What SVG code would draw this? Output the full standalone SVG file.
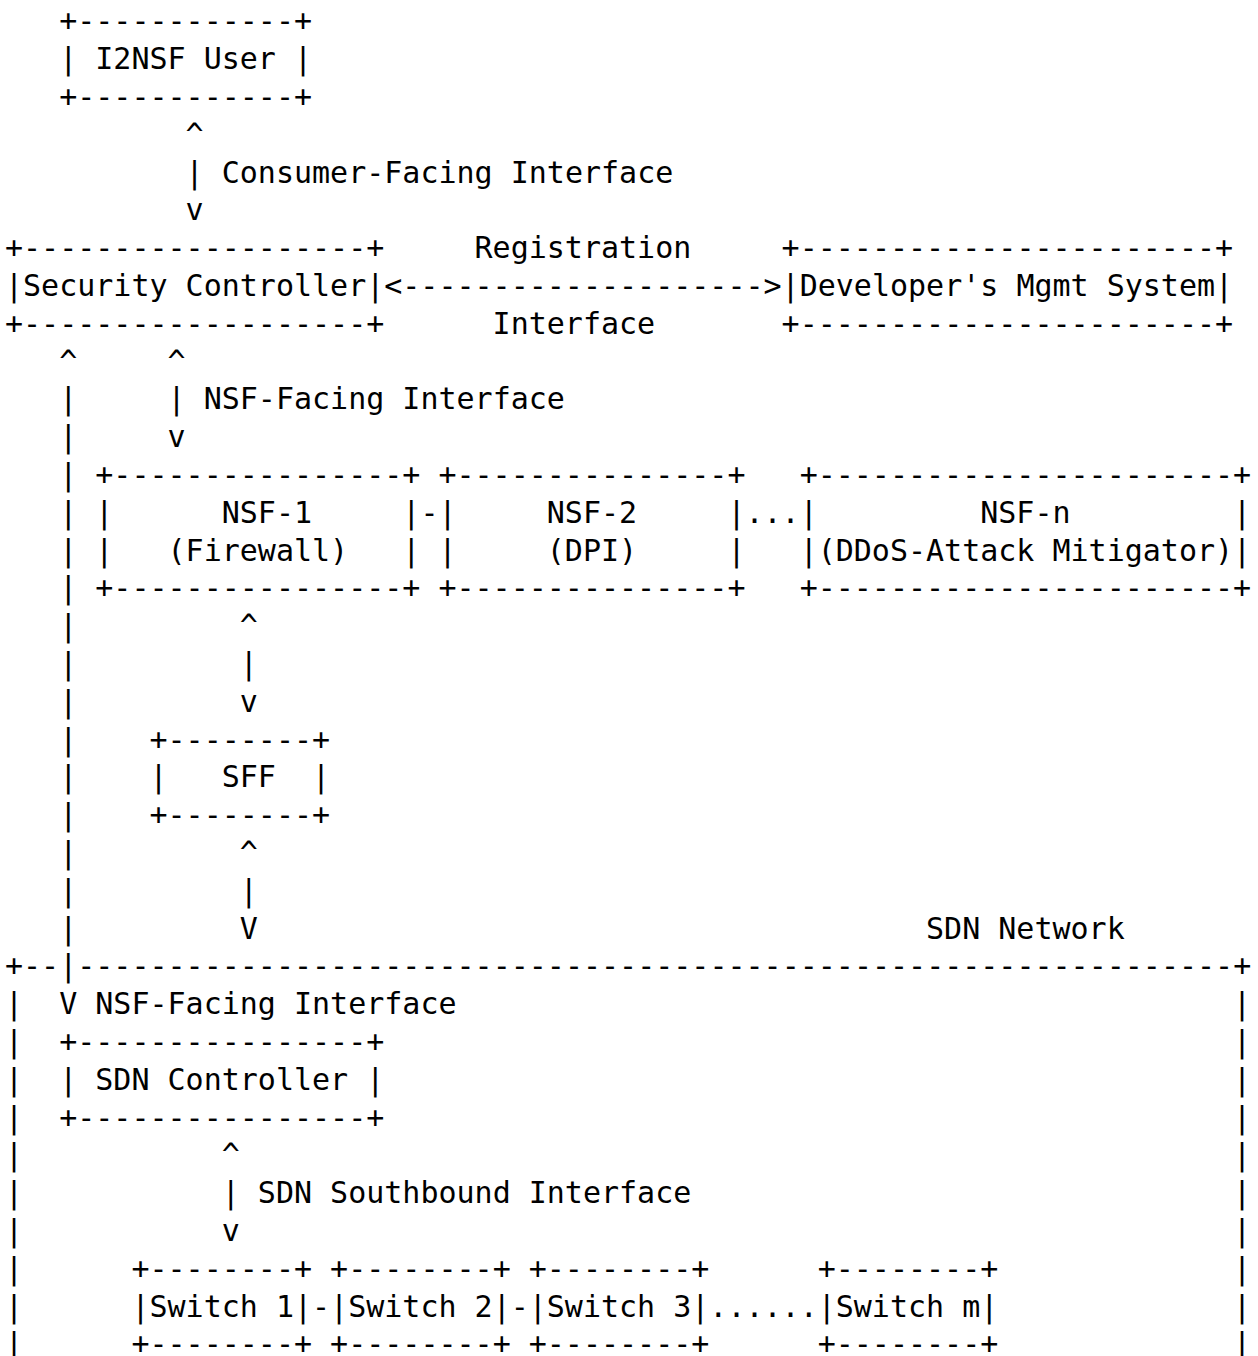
<svg xmlns="http://www.w3.org/2000/svg" width="1258" height="1356" viewBox="0 0 1258 1356" xml:space="preserve">
<style>
text { font-family: "DejaVu Sans Mono", "Liberation Mono", monospace; font-size: 30px; fill: #000; white-space: pre; }
</style>
<rect x="0" y="0" width="1258" height="1356" fill="#fff"/>
<g id="i2nsf-user">
<text x="59.18" y="31.4">+------------+</text>
<text x="59.18" y="69.2">| I2NSF User |</text>
<text x="59.18" y="107">+------------+</text>
</g>
<g id="security-controller">
<text x="5" y="258.2">+-------------------+</text>
<text x="5" y="296">|Security Controller|</text>
<text x="5" y="333.8">+-------------------+</text>
</g>
<g id="developers-mgmt-system">
<text x="781.58" y="258.2">+-----------------------+</text>
<text x="781.58" y="296">|Developer's Mgmt System|</text>
<text x="781.58" y="333.8">+-----------------------+</text>
</g>
<g id="nsf-1">
<text x="95.3" y="485">+----------------+</text>
<text x="95.3" y="522.8">|      NSF-1     |</text>
<text x="95.3" y="560.6">|   (Firewall)   |</text>
<text x="95.3" y="598.4">+----------------+</text>
</g>
<g id="nsf-2">
<text x="438.44" y="485">+---------------+</text>
<text x="438.44" y="522.8">|     NSF-2     |</text>
<text x="438.44" y="560.6">|     (DPI)     |</text>
<text x="438.44" y="598.4">+---------------+</text>
</g>
<g id="nsf-n">
<text x="799.64" y="485">+-----------------------+</text>
<text x="799.64" y="522.8">|         NSF-n         |</text>
<text x="799.64" y="560.6">|(DDoS-Attack Mitigator)|</text>
<text x="799.64" y="598.4">+-----------------------+</text>
</g>
<g id="sff">
<text x="149.48" y="749.6">+--------+</text>
<text x="149.48" y="787.4">|   SFF  |</text>
<text x="149.48" y="825.2">+--------+</text>
</g>
<g id="sdn-network">
<text x="926.06" y="938.6">SDN Network</text>
<text x="5" y="976.4">+--</text>
<text x="77.24" y="976.4">----------------------------------------------------------------+</text>
<text><tspan x="5" y="1014.2">|</tspan><tspan x="5" y="1052">|</tspan><tspan x="5" y="1089.8">|</tspan><tspan x="5" y="1127.6">|</tspan><tspan x="5" y="1165.4">|</tspan><tspan x="5" y="1203.2">|</tspan><tspan x="5" y="1241">|</tspan><tspan x="5" y="1278.8">|</tspan><tspan x="5" y="1316.6">|</tspan><tspan x="5" y="1354.4">|</tspan></text>
<text><tspan x="1233.08" y="1014.2">|</tspan><tspan x="1233.08" y="1052">|</tspan><tspan x="1233.08" y="1089.8">|</tspan><tspan x="1233.08" y="1127.6">|</tspan><tspan x="1233.08" y="1165.4">|</tspan><tspan x="1233.08" y="1203.2">|</tspan><tspan x="1233.08" y="1241">|</tspan><tspan x="1233.08" y="1278.8">|</tspan><tspan x="1233.08" y="1316.6">|</tspan><tspan x="1233.08" y="1354.4">|</tspan></text>
</g>
<g id="sdn-controller">
<text x="59.18" y="1052">+----------------+</text>
<text x="59.18" y="1089.8">| SDN Controller |</text>
<text x="59.18" y="1127.6">+----------------+</text>
</g>
<g id="switch-1">
<text x="131.42" y="1278.8">+--------+</text>
<text x="131.42" y="1316.6">|Switch 1|</text>
<text x="131.42" y="1354.4">+--------+</text>
</g>
<g id="switch-2">
<text x="330.08" y="1278.8">+--------+</text>
<text x="330.08" y="1316.6">|Switch 2|</text>
<text x="330.08" y="1354.4">+--------+</text>
</g>
<g id="switch-3">
<text x="528.74" y="1278.8">+--------+</text>
<text x="528.74" y="1316.6">|Switch 3|</text>
<text x="528.74" y="1354.4">+--------+</text>
</g>
<g id="switch-m">
<text x="817.7" y="1278.8">+--------+</text>
<text x="817.7" y="1316.6">|Switch m|</text>
<text x="817.7" y="1354.4">+--------+</text>
</g>
<g id="connectors">
<text><tspan x="185.6" y="144.8">^</tspan><tspan x="185.6" y="182.6">|</tspan><tspan x="185.6" y="220.4">v</tspan></text>
<text x="221.72" y="182.6">Consumer-Facing Interface</text>
<text x="474.56" y="258.2">Registration</text>
<text x="384.26" y="296">&lt;--------------------&gt;</text>
<text x="492.62" y="333.8">Interface</text>
<text><tspan x="167.54" y="371.6">^</tspan><tspan x="167.54" y="409.4">|</tspan><tspan x="167.54" y="447.2">v</tspan></text>
<text x="203.66" y="409.4">NSF-Facing Interface</text>
<text><tspan x="59.18" y="371.6">^</tspan><tspan x="59.18" y="409.4">|</tspan><tspan x="59.18" y="447.2">|</tspan><tspan x="59.18" y="485">|</tspan><tspan x="59.18" y="522.8">|</tspan><tspan x="59.18" y="560.6">|</tspan><tspan x="59.18" y="598.4">|</tspan><tspan x="59.18" y="636.2">|</tspan><tspan x="59.18" y="674">|</tspan><tspan x="59.18" y="711.8">|</tspan><tspan x="59.18" y="749.6">|</tspan><tspan x="59.18" y="787.4">|</tspan><tspan x="59.18" y="825.2">|</tspan><tspan x="59.18" y="863">|</tspan><tspan x="59.18" y="900.8">|</tspan><tspan x="59.18" y="938.6">|</tspan><tspan x="59.18" y="976.4">|</tspan><tspan x="59.18" y="1014.2">V</tspan></text>
<text x="95.3" y="1014.2">NSF-Facing Interface</text>
<text x="420.38" y="522.8">-</text>
<text x="745.46" y="522.8">...</text>
<text><tspan x="239.78" y="636.2">^</tspan><tspan x="239.78" y="674">|</tspan><tspan x="239.78" y="711.8">v</tspan></text>
<text><tspan x="239.78" y="863">^</tspan><tspan x="239.78" y="900.8">|</tspan><tspan x="239.78" y="938.6">V</tspan></text>
<text><tspan x="221.72" y="1165.4">^</tspan><tspan x="221.72" y="1203.2">|</tspan><tspan x="221.72" y="1241">v</tspan></text>
<text x="257.84" y="1203.2">SDN Southbound Interface</text>
<text x="312.02" y="1316.6">-</text>
<text x="510.68" y="1316.6">-</text>
<text x="709.34" y="1316.6">......</text>
</g>
</svg>
